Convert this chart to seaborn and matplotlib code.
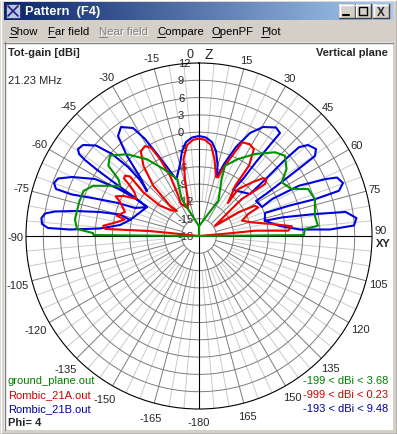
import numpy as np
import matplotlib
matplotlib.use("Agg")
import matplotlib.pyplot as plt
import seaborn as sns
from matplotlib.patches import Rectangle

W, H = 397, 435
CX, CY, RPX = 199, 237, 173          # centre and outer radius of the polar plot (pixels)
GMIN, GMAX = -18, 12

# gain traces: angle from zenith (deg, clockwise), gain in dBi (below -18 clipped to centre)
blue_theta = [-76.94, -74.78, -76.37, -78.60, -80.34, -81.69, -83.54, -85.63, -86.97, -87.12,
              -85.67, -82.07, -76.94,
              -60.85, -59.30, -59.61, -61.27, -65.08, -67.81, -69.92, -71.81, -71.90, -70.17,
              -67.83, -66.37, -60.85,
              -58.67, -57.70, -56.96, -56.31, -55.65, -54.29, -51.89, -48.69, -46.70, -45.82,
              -46.49, -49.13,
              -45.00, -41.99, -39.00, -35.59, -31.43, -29.10, -27.12, -24.88, -21.98,
              -20.45, -14.78, -11.31, -7.87, -4.06, 0.0, 4.06, 7.87, 11.31, 14.41, 16.97,
              19.15, 22.57, 26.34, 30.42, 35.36, 38.18, 37.96, 37.61, 37.67, 36.47,
              50.53, 49.50, 48.40, 48.40, 50.14, 53.37, 55.41, 55.92, 56.78, 57.92, 58.45,
              65.28, 63.20, 63.30, 65.80, 67.03, 69.80, 72.10, 72.40, 71.40, 70.79,
              77.00, 77.40, 79.30, 80.71, 83.50, 86.12, 87.16, 86.32, 82.96, 77.00]
blue_gain = [-5.72, -3.80, -0.34, 3.93, 7.33, 8.99, 9.50, 9.30, 8.22, 4.40,
             -0.78, -4.17, -5.72,
             -7.68, -5.09, -1.72, 2.57, 6.28, 8.40, 8.77, 8.10, 5.17, 1.17,
             -2.83, -5.89, -7.68,
             -3.99, -0.15, 3.31, 5.76, 7.20, 7.84, 7.57, 5.77, 2.73, -0.83,
             -3.90, -6.08,
             -3.53, 0.66, 4.32, 5.24, 3.95, 1.25, -2.02, -4.81, -7.34,
             -7.08, -5.09, -2.97, -1.55, -0.88, -0.66, -0.88, -1.55, -2.97, -5.11, -7.30,
             -4.78, -1.29, 1.93, 3.92, 5.07, 4.72, 2.01, -1.80, -5.51, -8.08,
             -6.54, -2.80, 2.10, 5.20, 6.62, 7.28, 6.43, 3.35, -0.59, -4.29, -6.40,
             -5.97, -3.80, 1.40, 6.10, 7.99, 8.61, 7.50, 3.20, -1.50, -5.88,
             -6.30, -3.20, 2.60, 7.78, 9.48, 8.94, 4.74, -0.45, -3.85, -6.30]

red_theta = [-84.0, -84.1, -84.2, -85.7, -83.9, -80.5, -77.5, -76.1, -72.0, -67.0, -64.5,
             -62.0, -59.3, -56.0, -53.9, -52.5, -50.8, -49.2, -51.9, -52.2, -47.0, -41.4,
             -43.7, -42.3, -38.4, -34.5, -31.0, -28.5, -26.9, -25.7, -27.2, -29.4, -22.0,
             -17.9, -13.8, -11.4, -7.5, -3.6, 0.0, 3.6, 7.5, 11.4, 16.1, 18.2,
             19.2, 22.5, 24.8, 29.0, 32.3, 35.4, 35.8, 41.3, 39.9, 44.5, 48.0, 49.9,
             51.8, 51.0, 49.1, 50.4, 57.2, 58.9, 61.6, 64.2, 65.9, 70.3, 75.4, 80.6,
             84.0, 86.6, 84.6, 85.0, 85.0]
red_gain = [-18.0, -12.9, -9.5, -1.7, -1.3, -3.5, -4.8, -3.3, -4.5, -3.2, -2.0,
            -3.2, -5.4, -4.5, -3.2, -1.6, -1.45, -2.2, -5.7, -9.4, -11.5, -12.2,
            -10.7, -6.2, -2.5, -0.2, 0.2, -0.6, -3.0, -6.4, -10.1, -11.6, -12.8,
            -11.8, -7.8, -4.4, -2.1, -1.3, -1.1, -1.3, -2.1, -4.4, -7.35, -7.3,
            -5.7, -2.9, -0.1, 0.2, -0.2, -3.0, -7.2, -10.4, -7.4, -5.0, -3.0, -2.7,
            -3.4, -5.5, -8.2, -10.7, -14.7, -10.0, -7.0, -6.6, -8.6, -10.1, -8.6, -5.2,
            -1.8, -2.5, -8.2, -13.0, -18.0]

green_theta = [-90.0, -89.5, -88.4, -86.7, -82.4, -74.4, -68.7, -64.6, -57.5, -54.8,
               -52.2, -47.9, -41.4, -34.2, -28.0, -21.0, -25.0, -20.6, 0.0, 0.0, 0.0,
               23.1, 28.7, 21.7, 20.3, 27.0, 34.3, 42.2, 47.0, 52.6, 57.0, 63.1, 66.7,
               72.3, 80.1, 85.1, 86.2, 89.5, 90.0]
green_gain = [-18.0, 0.3, 0.4, 3.2, 3.7, 3.6, 3.5, 2.3, -1.8, -0.9,
              1.9, 2.8, 0.9, -1.9, -4.8, -7.4, -10.9, -13.6, -16.3, -18.0, -16.3,
              -13.7, -11.0, -7.4, -5.0, -3.0, -0.8, 1.6, 2.4, 1.1, -0.9, 0.0, 2.6,
              3.1, 2.4, 2.7, 0.4, 0.2, -18.0]

file_names = ['ground_plane.out', 'Rombic_21A.out', 'Rombic_21B.out']
range_labels = ['-199 < dBi < 3.68', '-999 < dBi < 0.23', '-193 < dBi < 9.48']
radial_ticks = list(range(-18, 13, 3))
angle_ticks = list(range(-165, 181, 15))
menu_items = ['Show', 'Far field', 'Near field', 'Compare', 'OpenPF', 'Plot']
menu_x = [9, 48, 99, 157, 212, 261]

curve_colors = ['#009000', '#f00000', '#0000e0']
text_colors = ['#008000', '#d00000', '#0000a0']

sns.set_style("white")
plt.rcParams['font.family'] = ['Liberation Sans', 'DejaVu Sans']
FS = 8


def fx(x):
    return x / W


def fy(y):
    return 1 - y / H


def box(x0, y0, x1, y1, color, z=0, ec='none', lw=0):
    fig.add_artist(Rectangle((fx(x0), fy(y1)), (x1 - x0) / W, (y1 - y0) / H,
                             transform=fig.transFigure, facecolor=color,
                             edgecolor=ec, linewidth=lw, zorder=z))


def line(x0, y0, x1, y1, color, lw=0.75, z=2):
    fig.add_artist(plt.Line2D([fx(x0), fx(x1)], [fy(y0), fy(y1)],
                              transform=fig.transFigure, color=color, lw=lw, zorder=z))


def label(x, y, s, **kw):
    kw.setdefault('fontsize', FS)
    kw.setdefault('va', 'center')
    kw.setdefault('zorder', 6)
    return fig.text(fx(x), fy(y), s, **kw)


def gain_at(rpx):
    return GMIN + rpx / RPX * (GMAX - GMIN)


fig = plt.figure(figsize=(W / 100, H / 100), dpi=100)
fig.patch.set_facecolor('#d4d0c8')

# window chrome
line(0, 0.5, W, 0.5, '#ffffff', 1)
line(0.5, 0, 0.5, H, '#ffffff', 1)
line(W - 0.5, 0, W - 0.5, H, '#404040', 1)
line(0, H - 0.5, W, H - 0.5, '#404040', 1)

tax = fig.add_axes([fx(4), fy(21), (393 - 4) / W, 18 / H])
grad = np.linspace(0, 1, 256)
c0 = np.array([10, 36, 106]) / 255
c1 = np.array([166, 202, 240]) / 255
tax.imshow((c0[None, :] + grad[:, None] * (c1 - c0)[None, :])[None, :, :], aspect='auto',
           extent=[0, 1, 0, 1])
tax.set_axis_off()
tax.set_zorder(1)

box(6, 5, 20, 19, '#b8c4e8', z=3, ec='#303060', lw=0.6)
line(8, 7, 18, 17, '#202080', 1.2, 4)
line(18, 7, 8, 17, '#202080', 1.2, 4)
label(25, 12, 'Pattern  (F4)', color='white', fontweight='bold', fontsize=9.3)

for bx0, bx1 in [(339, 355), (355, 371), (373, 389)]:
    box(bx0, 5, bx1, 19, '#d4d0c8', z=3)
    line(bx0, 5.5, bx1, 5.5, '#ffffff', 1, 4)
    line(bx0 + 0.5, 5, bx0 + 0.5, 19, '#ffffff', 1, 4)
    line(bx0, 18.5, bx1, 18.5, '#404040', 1, 4)
    line(bx1 - 0.5, 5, bx1 - 0.5, 19, '#404040', 1, 4)
line(343, 15.5, 349, 15.5, 'black', 1.5, 5)
box(359, 8, 367, 16, 'none', z=5, ec='black', lw=1.0)
label(381, 12.5, 'X', ha='center', fontweight='bold', fontsize=8.5)

fig.canvas.draw()
renderer = fig.canvas.get_renderer()
for name, mx in zip(menu_items, menu_x):
    grey = name == 'Near field'
    if grey:
        label(mx + 1, 33, name, color='white', fontsize=8.2)
    label(mx, 32, name, color='#808080' if grey else 'black', fontsize=8.2)
    first = label(mx, 32, name[0], fontsize=8.2, alpha=0)
    bb = first.get_window_extent(renderer)
    line(mx, 37.5, mx + bb.width, 37.5, '#808080' if grey else 'black', 0.7, 3)

# client area
box(4, 43, 393, 431, 'white', z=0.5)
line(4, 43.5, 393, 43.5, '#808080', 1, 1)
line(4.5, 43, 4.5, 431, '#808080', 1, 1)

# polar plot
ax = fig.add_axes([fx(CX - RPX), fy(CY + RPX), 2 * RPX / W, 2 * RPX / H], projection='polar')
ax.set_zorder(3)
ax.set_theta_zero_location('N')
ax.set_theta_direction(-1)
ax.set_facecolor('none')
ax.grid(False)

full = np.linspace(0, 2 * np.pi, 721)
for g in radial_ticks[1:-1]:
    ax.plot(full, np.full_like(full, g), color='#7c7c7c', lw=0.7, zorder=1)
for a in range(0, 360, 5):
    t = np.deg2rad(a)
    if a % 90 == 0:
        continue
    if a % 15 == 0:
        ax.plot([t, t], [-15, GMAX], color='#7c7c7c', lw=0.7, zorder=1)
    else:
        ax.plot([t, t], [-12, GMAX], color='#cacaca', lw=0.7, zorder=0.9)
for a in (0, 90):
    t = np.deg2rad(a)
    ax.plot([t, t], [GMAX, GMIN], color='black', lw=0.8, zorder=1.5)
    ax.plot([t + np.pi, t + np.pi], [GMAX, GMIN], color='black', lw=0.8, zorder=1.5)

for g in radial_ticks:
    ax.annotate(str(g), xy=(0, g), xytext=(-21, 0), textcoords='offset pixels',
                ha='left', va='center', fontsize=FS, zorder=2)

for a in angle_ticks:
    if a in (0, 90, -90):
        continue
    rpx = 186 if abs(a) > 90 else 182
    if a < 0:
        rpx += 2
    txt = '-180' if a == 180 else str(a)
    ax.text(np.deg2rad(a), gain_at(rpx), txt, ha='center', va='center', fontsize=FS)
ax.text(np.deg2rad(-2.7), gain_at(182), '0', ha='center', va='center', fontsize=9)
ax.text(np.deg2rad(3.2), gain_at(182), 'Z', ha='center', va='center', fontsize=10)
ax.text(np.deg2rad(88), gain_at(182), '90', ha='center', va='center', fontsize=FS)
ax.text(np.deg2rad(92.3), gain_at(184), 'XY', ha='center', va='center', fontsize=FS,
        fontweight='bold')
ax.text(np.deg2rad(-90.3), gain_at(184), '-90', ha='center', va='center', fontsize=FS)

traces = [(green_theta, green_gain), (red_theta, red_gain), (blue_theta, blue_gain)]
for (th, gn), col, z in zip(traces, curve_colors, [5, 4, 3]):
    sns.lineplot(x=np.deg2rad(th), y=np.clip(gn, GMIN, GMAX), ax=ax, sort=False,
                 estimator=None, color=col, linewidth=1.5, zorder=z)

ax.set_xlim(0, 2 * np.pi)
ax.set_ylim(GMIN, GMAX)
ax.set_xticks([])
ax.set_yticks([])
ax.set_xlabel('')
ax.set_ylabel('')
ax.spines['polar'].set_color('black')
ax.spines['polar'].set_linewidth(0.8)

# header and footer texts
label(8, 53, 'Tot-gain [dBi]', fontweight='bold')
label(388, 53, 'Vertical plane', fontweight='bold', ha='right')
label(8, 81, '21.23 MHz')
for i, (fn, rl) in enumerate(zip(file_names, range_labels)):
    y = 381 + i * 14.2
    label(8, y, fn, color=text_colors[i])
    label(388, y, rl, color=text_colors[i], ha='right')
label(8, 423, 'Phi= 4', fontweight='bold')

fig.savefig('out.png', dpi=100, facecolor=fig.get_facecolor())
